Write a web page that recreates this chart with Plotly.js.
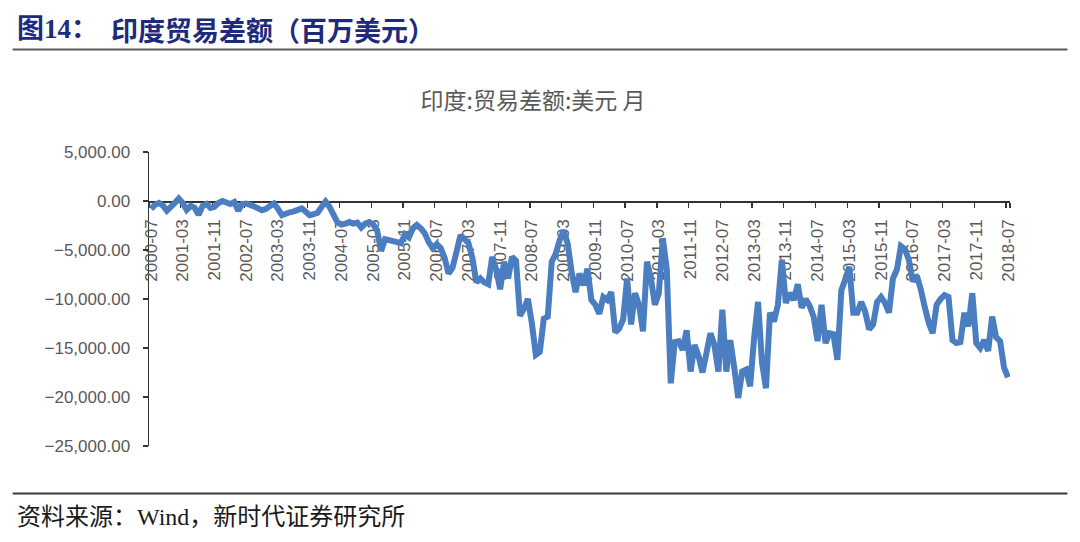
<!DOCTYPE html>
<html>
<head>
<meta charset="utf-8">
<script src="https://cdn.plot.ly/plotly-3.0.1.min.js"></script>
<style>
  html, body { margin: 0; padding: 0; background: #fff; }
  #chart { width: 1080px; height: 542px; }
</style>
</head>
<body>
<div id="chart"></div>
<script>
// ---- data ----
var startYear = 2000, startMonth = 7, endYear = 2018, endMonth = 7;
var tickLabels = ["2000-07","2001-03","2001-11","2002-07","2003-03","2003-11","2004-07",
  "2005-03","2005-11","2006-07","2007-03","2007-11","2008-07","2009-03","2009-11",
  "2010-07","2011-03","2011-11","2012-07","2013-03","2013-11","2014-07","2015-03",
  "2015-11","2016-07","2017-03","2017-11","2018-07"];
// India trade balance, USD million, monthly 2000-07 .. 2018-07
var tradeBalance = [
  -800,-400,-200,-450,-1000,-600,-200,250,-200,-900,
  -500,-700,-1400,-500,-300,-700,-600,-200,0,-150,
  -300,-100,-1000,-300,-250,-400,-550,-750,-950,-800,
  -500,-250,-800,-1450,-1300,-1150,-1050,-900,-750,-1100,
  -1450,-1350,-1200,-600,-50,-600,-1400,-2200,-2400,-2300,
  -2150,-2300,-2200,-2700,-2300,-2150,-2400,-3000,-5100,-3900,
  -4000,-4100,-4200,-4300,-3400,-3700,-2800,-2450,-2800,-3300,
  -4200,-4800,-4400,-4800,-5800,-7400,-6800,-5200,-3500,-3900,
  -4300,-5800,-8300,-7900,-8300,-8500,-5700,-7000,-9000,-6200,
  -7900,-5700,-6100,-11700,-11000,-10000,-12500,-15700,-15400,-12000,
  -11800,-6200,-5400,-4000,-3000,-4300,-7200,-9300,-7400,-8600,
  -6900,-10100,-10600,-11500,-9800,-10100,-9300,-13400,-13000,-12100,
  -7900,-12600,-9400,-10600,-13300,-6200,-7900,-10600,-9400,-3800,
  -7000,-18600,-14400,-14300,-15200,-13200,-17400,-14700,-15800,-17500,
  -15500,-13500,-14700,-17400,-11100,-17400,-14200,-17000,-20100,-17400,
  -17200,-18900,-14000,-10300,-16500,-19100,-11400,-12300,-10600,-6000,
  -10400,-9400,-10100,-8500,-10900,-10000,-10700,-11800,-14300,-10600,
  -14500,-13500,-13600,-16200,-9100,-8000,-6700,-11400,-11400,-10300,
  -11300,-13100,-12600,-10300,-9800,-10400,-11400,-7900,-7000,-4600,
  -4900,-6000,-8200,-7600,-9000,-10800,-12400,-13500,-10600,-10000,
  -9600,-9800,-14200,-14500,-14400,-11400,-12800,-9400,-14500,-15000,
  -14200,-15300,-11800,-13900,-14300,-17000,-18000
];

// month category labels
var months = [];
(function () {
  var y = startYear, m = startMonth;
  while (y < endYear || (y === endYear && m <= endMonth)) {
    months.push(y + "-" + (m < 10 ? "0" + m : "" + m));
    m++; if (m > 12) { m = 1; y++; }
  }
})();

// ---- layout geometry (pixels) ----
var W = 1080, H = 542;
var plotL = 148.5, plotR = 1010.5, plotT = 152.3, plotB = 445.7;
var pw = plotR - plotL, ph = plotB - plotT;
function px(x) { return (x - plotL) / pw; }
function py(y) { return (plotB - y) / ph; }

var yMin = -25000, yMax = 5000;

var trace = {
  type: "scatter",
  mode: "lines",
  x: months,
  y: tradeBalance,
  line: { color: "#4a7ec0", width: 6, simplify: false },
  hoverinfo: "x+y"
};

var tickFont = { family: "Liberation Sans, Arial, sans-serif", size: 17, color: "#595959" };

var layout = {
  width: W, height: H,
  margin: { l: plotL, r: W - plotR, t: plotT, b: H - plotB, pad: 0 },
  paper_bgcolor: "#ffffff",
  plot_bgcolor: "#ffffff",
  showlegend: false,
  title: {
    text: "印度:贸易差额:美元 月",
    font: { family: "Noto Sans CJK SC, sans-serif", size: 23, color: "#595959" },
    x: 533 / W, xanchor: "center",
    y: 1 - 101 / H, yanchor: "middle",
    xref: "container", yref: "container"
  },
  xaxis: {
    type: "category",
    range: [-0.5, months.length - 0.5],
    anchor: "free",
    position: (0 - yMin) / (yMax - yMin),
    tickmode: "array",
    tickvals: tickLabels,
    ticktext: tickLabels,
    tickson: "boundaries",
    tickangle: -90,
    ticks: "outside",
    ticklen: 5,
    tickwidth: 1.3,
    tickcolor: "#333333",
    showline: true,
    linecolor: "#333333",
    linewidth: 1.5,
    showgrid: false,
    zeroline: false,
    tickfont: tickFont,
    ticklabelstandoff: 10,
    layer: "below traces",
    fixedrange: true
  },
  yaxis: {
    range: [yMin, yMax],
    tickmode: "linear",
    tick0: yMin,
    dtick: 5000,
    tickformat: ",.2f",
    ticks: "outside",
    ticklen: 5,
    tickwidth: 1.3,
    tickcolor: "#333333",
    showline: true,
    linecolor: "#333333",
    linewidth: 1.5,
    showgrid: false,
    zeroline: false,
    tickfont: tickFont,
    ticklabelstandoff: 9,
    layer: "below traces",
    fixedrange: true
  },
  shapes: [
    { type: "line", xref: "paper", yref: "paper",
      x0: px(12), x1: px(1068), y0: py(50), y1: py(50),
      line: { color: "#5a5a5a", width: 2 } },
    { type: "line", xref: "paper", yref: "paper",
      x0: px(12), x1: px(1068), y0: py(493), y1: py(493),
      line: { color: "#3a3a3a", width: 2 } }
  ],
  annotations: [
    { xref: "paper", yref: "paper", x: px(14), y: py(30),
      xanchor: "left", yanchor: "middle", showarrow: false,
      text: "<b>图14：</b>",
      font: { family: "Liberation Serif, Noto Sans CJK SC, serif", size: 27, color: "#1d2a7e" } },
    { xref: "paper", yref: "paper", x: px(108), y: py(30),
      xanchor: "left", yanchor: "middle", showarrow: false,
      text: "<b>印度贸易差额（百万美元）</b>",
      font: { family: "Noto Sans CJK SC, sans-serif", size: 27, color: "#1d2a7e" } },
    { xref: "paper", yref: "paper", x: px(14), y: py(517),
      xanchor: "left", yanchor: "middle", showarrow: false,
      text: "资料来源：Wind，新时代证券研究所",
      font: { family: "Liberation Serif, Noto Sans CJK SC, serif", size: 24, color: "#1a1a1a" } }
  ]
};

Plotly.newPlot("chart", [trace], layout, { staticPlot: true, displayModeBar: false });
</script>
</body>
</html>
